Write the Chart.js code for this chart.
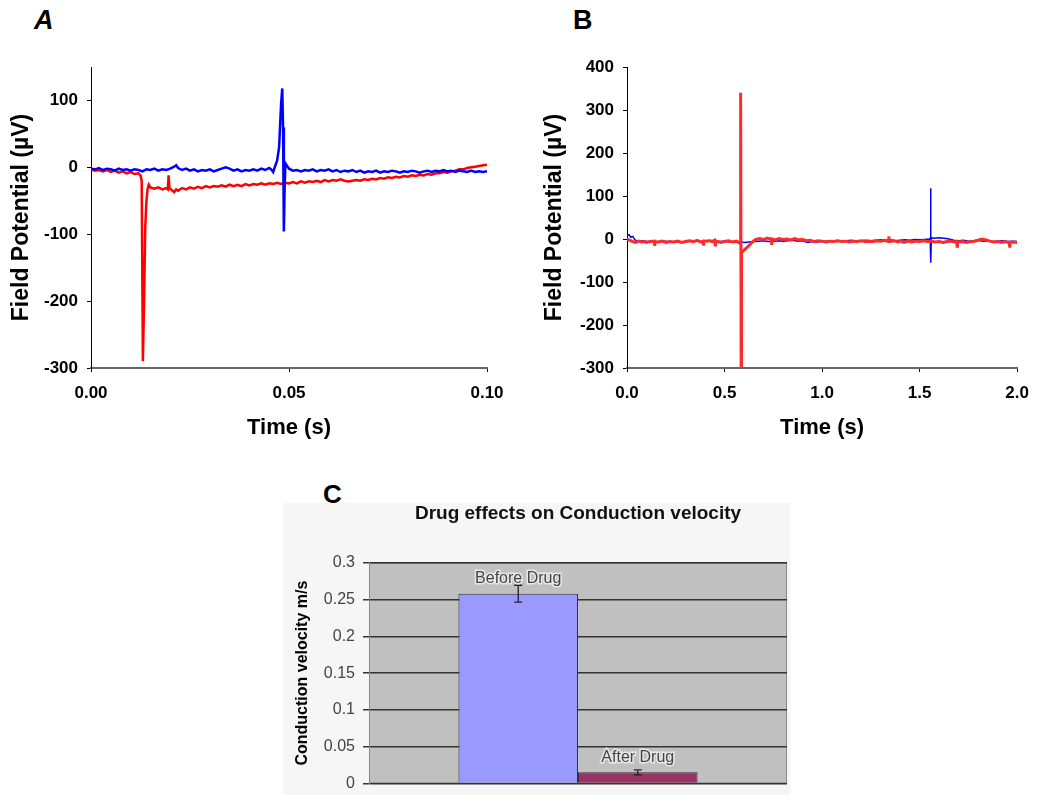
<!DOCTYPE html>
<html>
<head>
<meta charset="utf-8">
<script src="https://cdn.jsdelivr.net/npm/chart.js@4.4.1/dist/chart.umd.min.js"></script>
<style>
  body { margin:0; background:#fff; width:1040px; height:795px; position:relative; overflow:hidden;
         font-family:"Liberation Sans", Arial, sans-serif; }
  canvas { position:absolute; }
  .tag { position:absolute; font-weight:bold; font-size:27px; line-height:27px; color:#000; }
  #cBack { position:absolute; left:283px; top:503px; width:507px; height:292px; background:#f6f6f6; }
</style>
</head>
<body>
<div id="cBack"></div>
<div class="tag" style="left:34px;top:7px;font-style:italic">A</div>
<div class="tag" style="left:573px;top:7px">B</div>
<div class="tag" style="left:323px;top:481px;font-size:26px">C</div>
<canvas id="chartA" width="520" height="450" style="left:0;top:0"></canvas>
<canvas id="chartB" width="520" height="450" style="left:520px;top:0"></canvas>
<canvas id="chartC" width="520" height="331" style="left:270px;top:470px"></canvas>
<script>
// ----- Panel A: short sweep (s, µV) -----
const A_BLUE_T = [0.000,0.001,0.002,0.003,0.004,0.005,0.006,0.007,0.008,0.009,0.010,0.011,0.012,0.013,0.014,0.015,0.016,0.017,0.018,0.019,
  0.020,0.021,0.0215,0.022,0.023,0.024,0.025,0.026,0.027,0.028,0.029,0.030,0.031,0.032,0.033,0.034,0.035,0.036,0.037,0.038,0.039,
  0.040,0.041,0.042,0.043,0.044,0.045,0.0455,0.046,0.0465,0.047,0.0475,0.048,0.0483,0.0485,0.0487,0.0489,0.0491,0.0494,
  0.050,0.051,0.052,0.053,0.054,0.055,0.056,0.057,0.058,0.059,0.060,0.061,0.062,0.063,0.064,0.065,0.066,0.067,0.068,0.069,
  0.070,0.071,0.072,0.073,0.074,0.075,0.076,0.077,0.078,0.079,0.080,0.081,0.082,0.083,0.084,0.085,0.086,0.087,0.088,0.089,
  0.090,0.091,0.092,0.093,0.094,0.095,0.096,0.097,0.098,0.099,0.100];
const A_BLUE_V = [-2,-3,-1,-4,-2,-3,-5,-2,-4,-3,-5,-3,-4,-6,-3,-4,-2,-5,-3,-4,
  -2,1,3,-1,-4,-2,-5,-3,-6,-4,-5,-3,-6,-4,-2,0,-2,-5,-3,-6,-4,
  -5,-3,-5,-2,-4,-1,-3,-7,2,10,30,95,118,60,-96,-30,6,3,
  -2,-5,-4,-6,-4,-5,-3,-6,-4,-5,-3,-6,-4,-7,-5,-6,-4,-7,-5,-8,
  -6,-7,-5,-8,-6,-7,-5,-6,-8,-6,-7,-5,-6,-8,-6,-5,-7,-5,-6,-4,
  -6,-5,-7,-5,-6,-7,-5,-7,-6,-7,-6];
const A_RED_T = [0.000,0.001,0.002,0.003,0.004,0.005,0.006,0.007,0.008,0.009,0.010,0.011,0.012,0.0125,0.0128,0.0131,0.0134,0.0137,
  0.0140,0.0143,0.0146,0.015,0.016,0.017,0.018,0.019,0.0194,0.0196,0.0198,0.020,0.021,0.0215,0.022,0.023,0.024,0.025,0.026,0.027,
  0.028,0.029,0.030,0.031,0.032,0.033,0.034,0.035,0.036,0.037,0.038,0.039,0.040,0.041,0.042,0.043,0.044,0.045,0.046,0.047,0.048,
  0.049,0.050,0.051,0.052,0.053,0.054,0.055,0.056,0.057,0.058,0.059,0.060,0.061,0.062,0.063,0.064,0.065,0.066,0.067,0.068,0.069,
  0.070,0.071,0.072,0.073,0.074,0.075,0.076,0.077,0.078,0.079,0.080,0.081,0.082,0.083,0.084,0.085,0.086,0.087,0.088,0.089,
  0.090,0.091,0.092,0.093,0.094,0.095,0.096,0.097,0.098,0.099,0.100];
const A_RED_V = [-3,-5,-4,-6,-4,-7,-5,-8,-6,-9,-7,-10,-9,-12,-20,-290,-200,-90,
  -50,-32,-26,-30,-32,-30,-33,-31,-33,-12,-30,-32,-37,-33,-35,-31,-33,-30,-32,-29,
  -31,-28,-30,-28,-29,-27,-29,-26,-28,-26,-28,-25,-27,-25,-26,-24,-26,-24,-25,-23,-25,
  -23,-24,-22,-24,-21,-23,-21,-22,-20,-22,-19,-21,-19,-20,-18,-20,-21,-20,-19,-20,-18,
  -19,-17,-18,-16,-17,-15,-16,-14,-15,-13,-14,-12,-13,-11,-12,-10,-11,-9,-9,-7,
  -8,-6,-5,-3,-3,-1,0,1,2,3,4];
const A_X_TICKS = [0, 0.05, 0.1];
const A_Y_TICKS = [-300, -200, -100, 0, 100];

// ----- Panel B: long sweep (s, µV) -----
const B_BLUE_T = [0.000,0.010,0.020,0.030,0.040,0.060,0.080,0.100,0.125,0.150,0.175,0.200,0.225,0.250,0.275,0.300,0.325,0.350,0.375,
  0.400,0.425,0.450,0.475,0.500,0.525,0.550,0.575,0.600,0.625,0.650,0.675,0.700,0.725,0.750,0.775,0.800,0.825,0.850,0.875,
  0.900,0.925,0.950,0.975,1.000,1.025,1.050,1.075,1.100,1.125,1.150,1.175,1.200,1.225,1.250,1.275,1.300,1.325,1.350,1.375,
  1.400,1.425,1.450,1.475,1.500,1.525,1.550,1.554,1.556,1.558,1.560,1.575,1.600,1.625,1.650,1.675,1.700,1.725,1.750,1.775,
  1.800,1.825,1.850,1.875,1.900,1.925,1.950,1.975,2.000];
const B_BLUE_V = [8,10,4,6,-2,-5,-4,-6,-5,-7,-6,-5,-7,-6,-8,-6,-5,-4,-6,
  -5,-4,-3,-6,-5,-7,-8,-6,-8,-7,-6,-5,-4,-6,-5,-4,-5,-4,-3,-5,
  -4,-8,-6,-7,-6,-5,-6,-4,-5,-4,-3,-5,-4,-3,-4,-3,-2,-3,-2,-4,
  -3,-2,-3,-1,-2,-1,0,2,118,-55,3,2,3,2,0,-3,-4,-3,-5,-4,
  -3,-5,-4,-6,-5,-4,-6,-5,-6];
const B_RED_T = [0.000,0.015,0.030,0.045,0.060,0.075,0.090,0.100,0.120,0.140,0.142,0.144,0.160,0.180,0.200,0.220,0.240,0.260,0.280,
  0.300,0.320,0.340,0.360,0.380,0.390,0.392,0.394,0.420,0.440,0.450,0.452,0.454,0.480,0.500,0.520,0.540,0.560,0.575,0.580,
  0.582,0.583,0.585,0.587,0.600,0.620,0.640,0.660,0.680,0.700,0.720,0.740,0.742,0.744,0.760,0.780,0.800,0.820,0.840,0.860,
  0.880,0.900,0.920,0.940,0.960,0.980,1.000,1.020,1.040,1.060,1.080,1.100,1.120,1.140,1.160,1.180,1.200,1.220,1.240,1.260,
  1.280,1.300,1.320,1.340,1.342,1.344,1.370,1.390,1.400,1.420,1.440,1.460,1.480,1.500,1.520,1.540,1.560,1.580,1.600,1.620,
  1.640,1.660,1.680,1.690,1.692,1.694,1.720,1.740,1.760,1.780,1.800,1.820,1.840,1.860,1.880,1.900,1.920,1.940,1.960,1.962,
  1.964,1.980,2.000];
const B_RED_V = [0,-3,-6,-8,-5,-7,-6,-8,-6,-5,-16,-6,-7,-5,-8,-6,-7,-5,-8,
  -6,-4,-6,-3,-7,-5,-15,-6,-4,-6,-3,-14,-5,-8,-6,-4,-7,-5,-9,-6,
  12,340,-300,-32,-26,-18,-8,-1,1,-1,2,-1,-14,0,-2,1,-1,0,-2,1,
  -2,-1,-4,-3,-6,-4,-5,-7,-5,-6,-4,-6,-5,-7,-5,-6,-4,-6,-5,-6,
  -4,-5,-3,-6,6,-6,-4,-7,-5,-8,-5,-7,-5,-6,-4,-6,-5,-7,-6,-8,
  -6,-5,-7,-6,-17,-7,-6,-8,-6,-5,-3,0,-2,-5,-7,-6,-8,-6,-9,-20,
  -8,-7,-8];
const B_X_TICKS = [0, 0.5, 1, 1.5, 2];
const B_Y_TICKS = [-300, -200, -100, 0, 100, 200, 300, 400];

// ----- Panel C: conduction velocity (m/s) -----
const C_SERIES = ['Before Drug', 'After Drug'];
const C_VALUES = [0.258, 0.015];
const C_ERRORS = [0.0115, 0.0035];
const C_Y_TICKS = [0, 0.05, 0.1, 0.15, 0.2, 0.25, 0.3];

const FONT = '"Liberation Sans", Arial, sans-serif';
Chart.defaults.font.family = FONT;
Chart.defaults.color = '#000';

function pts(ts, vs){ return ts.map((t,i)=>({x:t, y:vs[i]})); }

// shared trace layout for A and B
function traceOptions(o){
  return {
    responsive:false, animation:false, devicePixelRatio:1,
    layout:{ padding:{ left:0, right:o.padRight, top:67, bottom:0 } },
    plugins:{ legend:{display:false}, tooltip:{enabled:false} },
    elements:{ point:{radius:0}, line:{tension:0} },
    scales:{
      x:{
        type:'linear', min:o.xMin, max:o.xMax,
        afterBuildTicks:s=>{ s.ticks = o.xTicks.map(v=>({value:v})); },
        afterFit:s=>{ s.height = 82; },
        ticks:{ font:{size:17, weight:'bold'}, color:'#000', padding:11, maxRotation:0,
                callback:v=>v.toFixed(o.xDigits) },
        grid:{ drawOnChartArea:false, drawTicks:true, tickLength:4, color:'#000' },
        border:{ color:'#666', width:2 },
        title:{ display:true, text:'Time (s)', font:{size:22, weight:'bold'}, color:'#000', padding:{top:0, bottom:9} }
      },
      y:{
        min:o.yMin, max:o.yMax,
        afterBuildTicks:s=>{ s.ticks = o.yTicks.map(v=>({value:v})); },
        afterFit:s=>{ s.width = o.yWidth; },
        ticks:{ font:{size:17, weight:'bold'}, color:'#000', padding:9, callback:v=>String(v) },
        grid:{ drawOnChartArea:false, drawTicks:true, tickLength:4, color:'#000' },
        border:{ color:'#000', width:1 },
        title:{ display:true, text:'Field Potential (\u00b5V)', font:{size:23, weight:'bold'}, color:'#000',
                padding:{top:o.titlePad, bottom:0} }
      }
    }
  };
}

new Chart(document.getElementById('chartA'), {
  type:'line',
  data:{ datasets:[
    { data:pts(A_BLUE_T, A_BLUE_V), borderColor:'#0000ff', borderWidth:2.5 },
    { data:pts(A_RED_T, A_RED_V), borderColor:'#ff0000', borderWidth:2.5 }
  ]},
  options:traceOptions({ padRight:33, xMin:0, xMax:0.1, xTicks:A_X_TICKS, xDigits:2,
                         yMin:-300, yMax:150, yTicks:A_Y_TICKS, yWidth:91, titlePad:8 })
});

new Chart(document.getElementById('chartB'), {
  type:'line',
  data:{ datasets:[
    { data:pts(B_RED_T, B_RED_V), borderColor:'#ff2a2a', borderWidth:3 },
    { data:pts(B_BLUE_T, B_BLUE_V), borderColor:'#0000ff', borderWidth:1.5 }
  ]},
  options:traceOptions({ padRight:16, xMin:0, xMax:2, xTicks:B_X_TICKS, xDigits:1,
                         yMin:-300, yMax:400, yTicks:B_Y_TICKS, yWidth:107, titlePad:21 })
});

// grey plot area with frame
const plotBack = {
  id:'plotBack',
  beforeDraw(chart){
    const {ctx, chartArea:a} = chart;
    ctx.save();
    ctx.fillStyle = '#c0c0c0';
    ctx.fillRect(a.left, a.top, a.right-a.left, a.bottom-a.top);
    ctx.strokeStyle = '#888'; ctx.lineWidth = 1;
    ctx.strokeRect(a.left+0.5, a.top+0.5, a.right-a.left-1, a.bottom-a.top-1);
    ctx.restore();
  }
};

// error bars and series labels above each bar
const barExtras = {
  id:'barExtras',
  afterDatasetsDraw(chart){
    const {ctx, scales:{y}} = chart;
    chart.data.datasets.forEach((ds,i)=>{
      const bar = chart.getDatasetMeta(i).data[0];
      const v = C_VALUES[i], e = C_ERRORS[i];
      const y1 = y.getPixelForValue(v+e), y2 = y.getPixelForValue(v-e);
      ctx.save();
      ctx.strokeStyle = '#222'; ctx.lineWidth = 1.3;
      ctx.beginPath();
      ctx.moveTo(bar.x, y1); ctx.lineTo(bar.x, y2);
      ctx.moveTo(bar.x-4, y1); ctx.lineTo(bar.x+4, y1);
      ctx.moveTo(bar.x-4, y2); ctx.lineTo(bar.x+4, y2);
      ctx.stroke();
      const ly = y.getPixelForValue(v) - 15;
      ctx.font = '16px ' + FONT;
      ctx.textAlign = 'center'; ctx.textBaseline = 'middle';
      ctx.lineWidth = 3; ctx.strokeStyle = 'rgba(236,236,236,0.9)';
      ctx.strokeText(ds.label, bar.x, ly);
      ctx.fillStyle = '#444';
      ctx.fillText(ds.label, bar.x, ly);
      ctx.restore();
    });
  }
};

const C_COLORS = ['#9999ff', '#993366'];

new Chart(document.getElementById('chartC'), {
  type:'bar',
  data:{
    labels:[''],
    datasets:C_SERIES.map((name,i)=>({
      label:name, data:[C_VALUES[i]], backgroundColor:C_COLORS[i],
      borderColor:'#333', borderWidth:1, barPercentage:1, categoryPercentage:0.572
    }))
  },
  options:{
    responsive:false, animation:false, devicePixelRatio:1,
    layout:{ padding:{ left:0, right:3, top:0, bottom:12 } },
    plugins:{
      legend:{display:false}, tooltip:{enabled:false},
      title:{ display:true, fullSize:false, text:'Drug effects on Conduction velocity',
              font:{size:19, weight:'bold'}, color:'#111', padding:{top:32, bottom:38} }
    },
    scales:{
      x:{ display:false },
      y:{
        min:0, max:0.3,
        afterBuildTicks:s=>{ s.ticks = C_Y_TICKS.map(v=>({value:v})); },
        afterFit:s=>{ s.width = 99; },
        ticks:{ font:{size:16}, color:'#444', padding:8, callback:v=>String(+v.toFixed(2)) },
        grid:{ color:'#333', lineWidth:1.5, tickLength:6, drawTicks:true },
        border:{ color:'#888', width:1 },
        title:{ display:true, text:'Conduction velocity m/s', font:{size:16, weight:'bold'}, color:'#000',
                padding:{top:23, bottom:0} }
      }
    }
  },
  plugins:[plotBack, barExtras]
});
</script>
</body>
</html>
